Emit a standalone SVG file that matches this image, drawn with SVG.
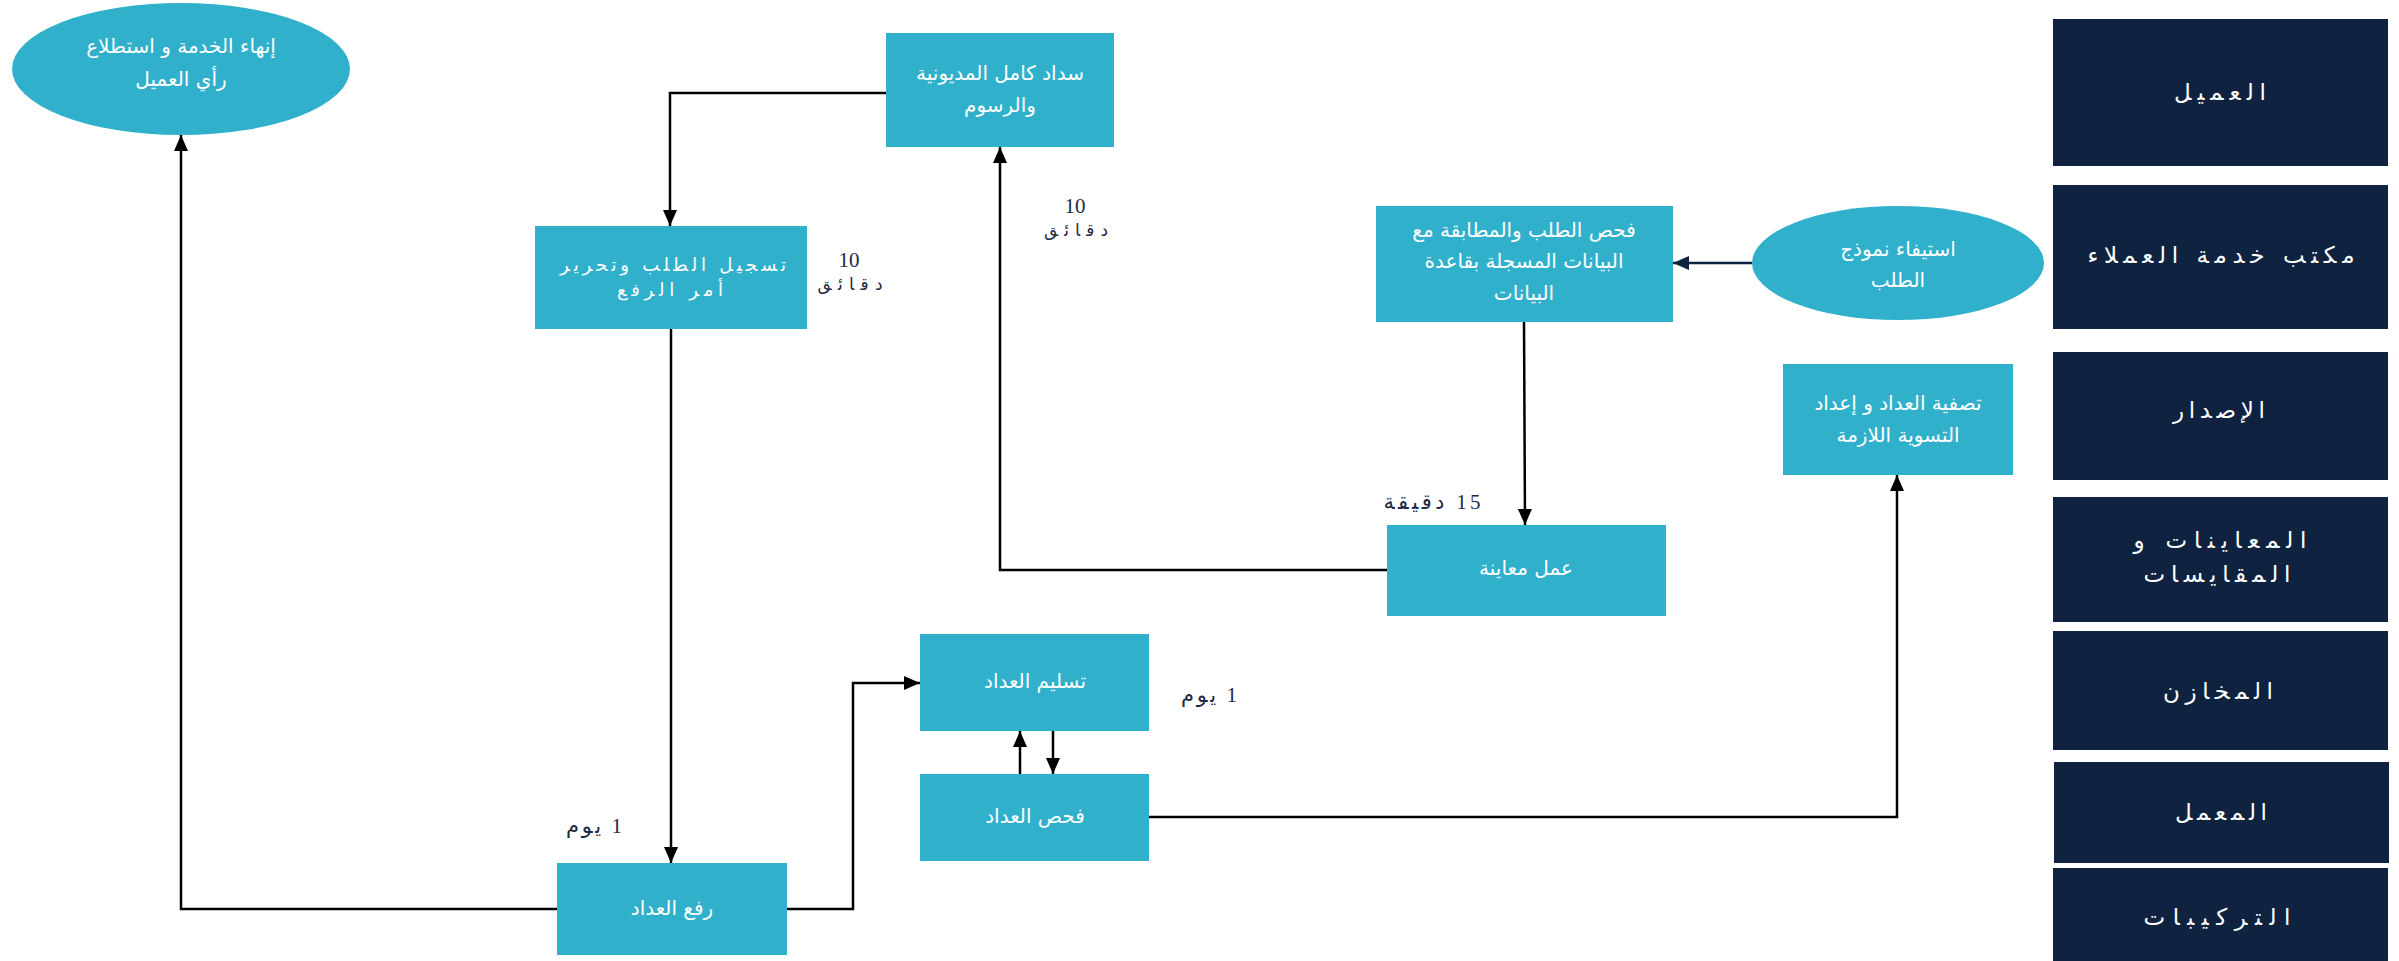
<svg xmlns="http://www.w3.org/2000/svg" width="2399" height="961" viewBox="0 0 2399 961">
<style>
.n{fill:#31B0CB}
.lane{fill:#0F2341}
.t{font-family:"DejaVu Sans","Noto Sans",sans-serif;font-size:20px;fill:#FFFFFF;text-anchor:middle}
.ts{font-family:"DejaVu Sans","Noto Sans",sans-serif;font-size:18px;fill:#FFFFFF;text-anchor:middle}
.lt{font-family:"DejaVu Sans","Noto Sans",sans-serif;font-size:23px;fill:#FFFFFF;text-anchor:middle}
.lb{font-family:"Liberation Serif","DejaVu Sans",serif;font-size:21px;fill:#1E2A45;text-anchor:middle}
.lbs{font-family:"DejaVu Sans","Noto Sans",sans-serif;font-size:17px;fill:#1E2A45;text-anchor:middle}
.c{fill:none;stroke:#000000;stroke-width:2.5}
</style>
<defs>
<marker id="ah" viewBox="0 0 16 14" refX="16" refY="7" markerWidth="16" markerHeight="14" markerUnits="userSpaceOnUse" orient="auto">
<path d="M0,0 L16,7 L0,14 z" fill="#000000"/>
</marker>
<marker id="ahn" viewBox="0 0 16 14" refX="16" refY="7" markerWidth="16" markerHeight="14" markerUnits="userSpaceOnUse" orient="auto">
<path d="M0,0 L16,7 L0,14 z" fill="#0F2341"/>
</marker>
</defs>
<rect width="2399" height="961" fill="#FFFFFF"/>

<g id="lanes">
<g id="lane-client"><rect class="lane" x="2053" y="19" width="335" height="147"/><text class="lt" x="2220" y="100" textLength="92" lengthAdjust="spacing">العميل</text></g>
<g id="lane-office"><rect class="lane" x="2053" y="185" width="335" height="144"/><text class="lt" x="2221" y="263" textLength="267" lengthAdjust="spacing">مكتب خدمة العملاء</text></g>
<g id="lane-issue"><rect class="lane" x="2053" y="352" width="335" height="128"/><text class="lt" x="2219" y="418" textLength="92" lengthAdjust="spacing">الإصدار</text></g>
<g id="lane-inspect"><rect class="lane" x="2053" y="497" width="335" height="125"/><text class="lt" x="2220" y="548" textLength="173" lengthAdjust="spacing">المعاينات و</text><text class="lt" x="2217" y="582" textLength="147" lengthAdjust="spacing">المقايسات</text></g>
<g id="lane-store"><rect class="lane" x="2053" y="631" width="335" height="119"/><text class="lt" x="2218" y="699" textLength="110" lengthAdjust="spacing">المخازن</text></g>
<g id="lane-lab"><rect class="lane" x="2054" y="762" width="335" height="101"/><text class="lt" x="2221" y="820" textLength="92" lengthAdjust="spacing">المعمل</text></g>
<g id="lane-install"><rect class="lane" x="2053" y="868" width="335" height="93"/><text class="lt" x="2217" y="925" textLength="147" lengthAdjust="spacing">التركيبات</text></g>
</g>

<g id="connectors">
<path class="c" d="M886,93 H670 V226" marker-end="url(#ah)"/>
<path class="c" d="M671,329 V863" marker-end="url(#ah)"/>
<path class="c" d="M557,909 H181 V135" marker-end="url(#ah)"/>
<path class="c" d="M787,909 H853 V683 H920" marker-end="url(#ah)"/>
<path class="c" d="M1053,731 V774" marker-end="url(#ah)"/>
<path class="c" d="M1020,774 V731" marker-end="url(#ah)"/>
<path class="c" d="M1149,817 H1897 V475" marker-end="url(#ah)"/>
<path class="c" d="M1752,263 H1673" style="stroke:#0F2341" marker-end="url(#ahn)"/>
<path class="c" d="M1524,322 L1525,525" marker-end="url(#ah)"/>
<path class="c" d="M1388,570 H1000 V147" marker-end="url(#ah)"/>
</g>

<g id="end-service">
<ellipse class="n" cx="181" cy="69" rx="169" ry="66"/>
<text class="t" x="181" y="53">إنهاء الخدمة و استطلاع</text>
<text class="t" x="181" y="86">رأي العميل</text>
</g>

<g id="pay-debt">
<rect class="n" x="886" y="33" width="228" height="114"/>
<text class="t" x="1000" y="80">سداد كامل المديونية</text>
<text class="t" x="1000" y="112">والرسوم</text>
</g>

<g id="register">
<rect class="n" x="535" y="226" width="272" height="103"/>
<text class="ts" x="673" y="271" textLength="226" lengthAdjust="spacing">تسجيل الطلب وتحرير</text>
<text class="ts" x="670" y="296" textLength="106" lengthAdjust="spacing">أمر الرفع</text>
</g>

<g id="check-request">
<rect class="n" x="1376" y="206" width="297" height="116"/>
<text class="t" x="1524" y="237">فحص الطلب والمطابقة مع</text>
<text class="t" x="1524" y="268">البيانات المسجلة بقاعدة</text>
<text class="t" x="1524" y="300">البيانات</text>
</g>

<g id="fill-form">
<ellipse class="n" cx="1898" cy="263" rx="146" ry="57"/>
<text class="t" x="1898" y="256">استيفاء نموذج</text>
<text class="t" x="1898" y="287">الطلب</text>
</g>

<g id="settle">
<rect class="n" x="1783" y="364" width="230" height="111"/>
<text class="t" x="1898" y="410">تصفية العداد و إعداد</text>
<text class="t" x="1898" y="442">التسوية اللازمة</text>
</g>

<g id="inspection">
<rect class="n" x="1387" y="525" width="279" height="91"/>
<text class="t" x="1526" y="575">عمل معاينة</text>
</g>

<g id="deliver-meter">
<rect class="n" x="920" y="634" width="229" height="97"/>
<text class="t" x="1035" y="688">تسليم العداد</text>
</g>

<g id="check-meter">
<rect class="n" x="920" y="774" width="229" height="87"/>
<text class="t" x="1035" y="823">فحص العداد</text>
</g>

<g id="lift-meter">
<rect class="n" x="557" y="863" width="230" height="92"/>
<text class="t" x="672" y="915">رفع العداد</text>
</g>

<g id="labels">
<text class="lb" x="849" y="267">10</text>
<text class="lbs" x="850" y="290" textLength="65" lengthAdjust="spacing">دقائق</text>
<text class="lb" x="1075" y="213">10</text>
<text class="lbs" x="1076" y="236" textLength="64" lengthAdjust="spacing">دقائق</text>
<text class="lb" x="1432" y="509" direction="rtl" textLength="97" lengthAdjust="spacing">15 دقيقة</text>
<text class="lb" x="1209" y="702" direction="rtl" textLength="56" lengthAdjust="spacing">1 يوم</text>
<text class="lb" x="594" y="833" direction="rtl" textLength="56" lengthAdjust="spacing">1 يوم</text>
</g>
</svg>
